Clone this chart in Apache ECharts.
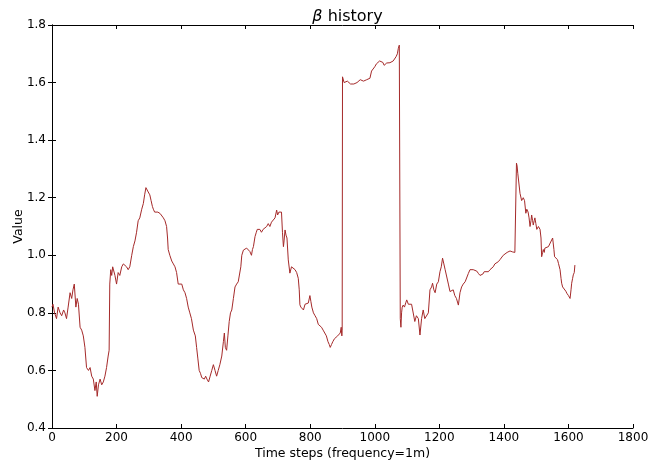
<!DOCTYPE html>
<html>
<head>
<meta charset="utf-8">
<script src="https://cdn.jsdelivr.net/npm/echarts@6/dist/echarts.min.js"></script>
<style>
html,body{margin:0;padding:0;background:#fff;}
#chart{width:648px;height:463px;}
</style>
</head>
<body>
<div id="chart"></div>
<script>
// Time steps (x) and beta values (y)
const steps = [0,3,8,14,19,25,30,36,40,45,50,56,61,65,69,74,78,82,87,92,97,102,107,113,118,123,128,133,137,140,144,149,154,159,164,169,174,177,179,182,185,188,190,195,200,205,210,216,221,226,231,236,241,247,252,257,262,267,272,278,283,287,291,295,298,303,307,311,314,318,322,328,335,340,345,350,355,358,360,365,371,376,381,386,391,397,402,407,412,417,422,427,432,438,444,448,452,456,460,464,468,472,476,480,485,490,495,500,505,510,515,520,526,531,534,537,541,545,549,553,557,562,567,572,577,582,585,588,593,598,603,608,613,618,621,624,629,633,636,640,644,649,654,660,665,670,675,680,685,691,696,699,703,706,711,714,717,719,722,725,728,732,737,742,747,753,758,763,766,768,771,774,779,784,789,794,799,802,805,810,815,820,825,830,835,840,845,850,855,859,862,866,870,875,880,885,890,893,896,898,899,900,902,905,910,915,920,925,930,935,940,945,950,955,960,965,970,975,980,985,990,995,1000,1005,1010,1015,1020,1025,1029,1033,1037,1042,1047,1052,1057,1062,1066,1070,1073,1076,1078,1079,1081,1083,1085,1088,1092,1096,1099,1104,1109,1114,1119,1124,1129,1135,1140,1145,1150,1155,1160,1166,1171,1176,1179,1183,1187,1192,1197,1202,1206,1210,1214,1218,1223,1228,1233,1238,1243,1248,1253,1259,1264,1269,1274,1280,1285,1290,1295,1300,1305,1311,1316,1321,1326,1331,1335,1339,1345,1352,1357,1362,1367,1372,1378,1383,1388,1393,1398,1403,1410,1419,1426,1434,1438,1439,1441,1443,1446,1448,1450,1455,1460,1464,1468,1471,1475,1478,1481,1484,1486,1489,1491,1494,1496,1499,1502,1507,1512,1515,1517,1520,1522,1525,1527,1532,1538,1543,1548,1551,1553,1555,1557,1562,1566,1569,1574,1577,1579,1582,1585,1588,1592,1595,1600,1603,1605,1608,1610,1613,1615,1618,1620];
const betaValues = [0.82,0.83,0.80,0.78,0.82,0.80,0.79,0.81,0.80,0.78,0.82,0.87,0.85,0.88,0.90,0.82,0.85,0.83,0.75,0.74,0.72,0.68,0.61,0.60,0.61,0.58,0.57,0.53,0.56,0.51,0.55,0.57,0.55,0.56,0.58,0.61,0.65,0.67,0.90,0.95,0.93,0.96,0.96,0.93,0.90,0.94,0.93,0.96,0.97,0.97,0.96,0.95,0.96,1.00,1.03,1.05,1.08,1.12,1.13,1.16,1.18,1.21,1.235,1.23,1.22,1.21,1.19,1.17,1.16,1.15,1.155,1.15,1.145,1.14,1.13,1.12,1.10,1.06,1.02,1.00,0.98,0.97,0.96,0.94,0.90,0.90,0.90,0.88,0.87,0.85,0.82,0.80,0.78,0.74,0.72,0.68,0.64,0.60,0.59,0.575,0.58,0.57,0.58,0.57,0.56,0.58,0.60,0.62,0.60,0.58,0.60,0.62,0.65,0.70,0.73,0.68,0.67,0.72,0.77,0.80,0.81,0.85,0.89,0.90,0.908,0.914,0.96,1.00,1.018,1.02,1.025,1.02,1.013,1.00,1.02,1.03,1.065,1.08,1.09,1.085,1.09,1.08,1.09,1.09,1.10,1.11,1.10,1.115,1.12,1.13,1.157,1.14,1.15,1.15,1.15,1.08,1.03,1.05,1.088,1.07,1.06,0.984,0.938,0.96,0.955,0.95,0.94,0.92,0.88,0.828,0.82,0.82,0.81,0.83,0.83,0.834,0.86,0.84,0.82,0.80,0.79,0.78,0.76,0.76,0.75,0.74,0.73,0.72,0.70,0.69,0.68,0.69,0.70,0.71,0.715,0.72,0.72,0.73,0.75,0.72,0.74,1.62,1.625,1.60,1.60,1.605,1.60,1.595,1.59,1.595,1.595,1.60,1.605,1.61,1.61,1.605,1.61,1.61,1.61,1.615,1.64,1.645,1.655,1.665,1.67,1.675,1.68,1.67,1.66,1.665,1.668,1.67,1.669,1.672,1.675,1.68,1.69,1.70,1.719,1.73,1.736,0.78,0.75,0.80,0.82,0.827,0.82,0.835,0.845,0.83,0.83,0.83,0.825,0.77,0.79,0.78,0.723,0.78,0.81,0.78,0.78,0.80,0.88,0.89,0.903,0.88,0.87,0.90,0.908,0.943,0.96,0.99,0.97,0.95,0.945,0.90,0.874,0.87,0.88,0.86,0.85,0.827,0.87,0.89,0.90,0.908,0.914,0.937,0.95,0.955,0.95,0.95,0.945,0.937,0.93,0.925,0.935,0.943,0.943,0.943,0.95,0.955,0.96,0.97,0.975,0.978,0.985,0.99,1.00,1.006,1.01,1.015,1.012,1.01,1.01,1.32,1.31,1.285,1.29,1.28,1.215,1.19,1.20,1.19,1.146,1.16,1.15,1.13,1.10,1.12,1.14,1.12,1.105,1.12,1.13,1.11,1.09,1.10,1.09,1.06,0.995,1.01,1.02,1.01,1.025,1.02,1.03,1.035,1.053,1.06,1.06,1.02,0.995,1.00,0.985,0.972,0.95,0.92,0.903,0.89,0.895,0.885,0.875,0.868,0.86,0.855,0.85,0.88,0.903,0.92,0.932,0.94,0.966];
const xTicks = [0,200,400,600,800,1000,1200,1400,1600,1800];
const yTicks = [0.4,0.6,0.8,1.0,1.2,1.4,1.6,1.8];
const titleText = 'β history';
const xName = 'Time steps (frequency=1m)';
const yName = 'Value';

const FONT = 'DejaVu Sans';
const seriesData = steps.map((s, i) => [s, betaValues[i]]);

const chart = echarts.init(document.getElementById('chart'), null, {renderer: 'canvas'});
const axisLineStyle = {show: true, lineStyle: {color: '#000', width: 1}};
const tickStyle = {show: true, inside: true, length: 4, lineStyle: {color: '#000', width: 1}};
chart.setOption({
  animation: false,
  backgroundColor: '#fff',
  title: {
    text: '{b|β} history',
    left: 342.5,
    top: 4,
    textAlign: 'center',
    textStyle: {
      fontFamily: FONT, fontSize: 16, fontWeight: 'normal', color: '#000',
      rich: {b: {fontFamily: FONT, fontSize: 16, fontStyle: 'italic', color: '#000'}}
    }
  },
  grid: {left: 52, right: 15, top: 25, bottom: 35, containLabel: false, outerBoundsMode: 'none'},
  xAxis: [{
    type: 'value', min: xTicks[0], max: xTicks[xTicks.length - 1], interval: 200,
    position: 'bottom',
    axisLine: axisLineStyle, axisTick: tickStyle, splitLine: {show: false},
    axisLabel: {color: '#000', fontFamily: FONT, fontSize: 12, margin: 4, showMinLabel: true, showMaxLabel: true,
      formatter: v => String(Math.round(v))},
    name: xName, nameLocation: 'middle', nameGap: 19, nameMoveOverlap: false,
    nameTextStyle: {color: '#000', fontFamily: FONT, fontSize: 12.5}
  }, {
    type: 'value', min: xTicks[0], max: xTicks[xTicks.length - 1], interval: 200,
    position: 'top',
    axisLine: axisLineStyle, axisTick: tickStyle, splitLine: {show: false},
    axisLabel: {show: false}
  }],
  yAxis: [{
    type: 'value', min: yTicks[0], max: yTicks[yTicks.length - 1], interval: 0.2,
    position: 'left',
    axisLine: axisLineStyle, axisTick: tickStyle, splitLine: {show: false},
    axisLabel: {color: '#000', fontFamily: FONT, fontSize: 12, margin: 6,
      formatter: v => Number(v).toFixed(1)},
    name: yName, nameLocation: 'middle', nameGap: 27, nameMoveOverlap: false,
    nameTextStyle: {color: '#000', fontFamily: FONT, fontSize: 12.5}
  }, {
    type: 'value', min: yTicks[0], max: yTicks[yTicks.length - 1], interval: 0.2,
    position: 'right',
    axisLine: axisLineStyle, axisTick: tickStyle, splitLine: {show: false},
    axisLabel: {show: false}
  }],
  series: [{
    type: 'line',
    xAxisIndex: 0, yAxisIndex: 0,
    data: seriesData,
    showSymbol: false,
    symbol: 'none',
    lineStyle: {color: '#a52a2a', width: 1},
    itemStyle: {color: '#a52a2a'}
  }]
});
</script>
</body>
</html>
